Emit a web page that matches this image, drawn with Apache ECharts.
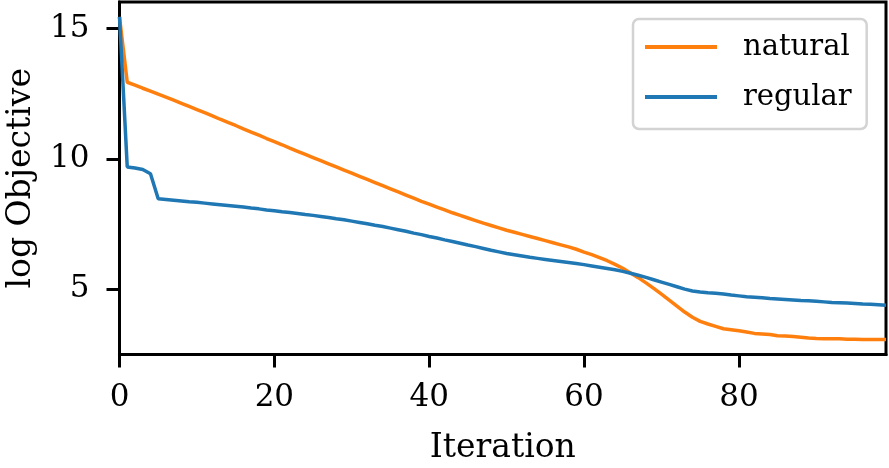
<!DOCTYPE html>
<html>
<head>
<meta charset="utf-8">
<script src="https://cdn.jsdelivr.net/npm/echarts@6/dist/echarts.min.js"></script>
<style>html,body{margin:0;padding:0;background:#fff}#c{width:889px;height:468px}</style>
</head>
<body>
<div id="c"></div>
<script>
var iterations = [];
for (var k = 0; k < 100; k++) iterations.push(k);

var natural = [15.45,12.94,12.83,12.71,12.60,12.48,12.37,12.25,12.13,12.01,
11.89,11.77,11.65,11.52,11.40,11.28,11.15,11.03,10.91,10.78,
10.66,10.54,10.41,10.29,10.17,10.05,9.93,9.81,9.69,9.57,
9.45,9.33,9.21,9.09,8.97,8.85,8.73,8.61,8.49,8.37,
8.26,8.15,8.04,7.93,7.83,7.73,7.63,7.53,7.44,7.35,
7.26,7.18,7.10,7.02,6.94,6.86,6.78,6.70,6.62,6.53,
6.42,6.32,6.21,6.09,5.95,5.80,5.62,5.44,5.24,5.03,
4.81,4.58,4.35,4.12,3.92,3.76,3.66,3.57,3.48,3.44,
3.40,3.35,3.30,3.28,3.26,3.21,3.20,3.18,3.15,3.12,
3.10,3.09,3.09,3.09,3.08,3.08,3.07,3.07,3.07,3.07];

var regular = [15.45,9.69,9.65,9.59,9.43,8.47,8.44,8.41,8.38,8.35,
8.33,8.30,8.27,8.24,8.21,8.18,8.15,8.11,8.08,8.04,
8.01,7.97,7.94,7.90,7.86,7.83,7.79,7.75,7.70,7.66,
7.61,7.56,7.51,7.45,7.40,7.34,7.28,7.22,7.15,7.09,
7.02,6.96,6.89,6.83,6.76,6.69,6.63,6.56,6.49,6.43,
6.37,6.32,6.27,6.22,6.18,6.14,6.10,6.06,6.02,5.98,
5.94,5.89,5.84,5.79,5.74,5.68,5.61,5.53,5.45,5.36,
5.27,5.18,5.09,5.00,4.93,4.89,4.86,4.84,4.81,4.77,
4.74,4.71,4.69,4.67,4.64,4.62,4.60,4.58,4.56,4.55,
4.53,4.51,4.49,4.48,4.47,4.45,4.43,4.42,4.40,4.38];

var xTicks = [0, 20, 40, 60, 80];
var yTicks = [5, 10, 15];

function pairs(ys) { return iterations.map(function (x, i) { return [x, ys[i]]; }); }

var FONT = 'DejaVu Serif';
var chart = echarts.init(document.getElementById('c'));
chart.setOption({
  animation: false,
  grid: {left: 119.5, right: 3, top: 2, bottom: 113.5, outerBoundsMode: 'none',
         show: true, borderColor: '#000', borderWidth: 3},
  legend: {
    left: 633, top: 19, orient: 'vertical',
    data: [{name: 'natural', icon: 'rect'}, {name: 'regular', icon: 'rect'}],
    itemWidth: 72, itemHeight: 4, itemGap: 20,
    padding: [13, 15, 17, 12],
    borderColor: '#d3d3d3', borderWidth: 2.5, borderRadius: 6,
    backgroundColor: 'rgba(255,255,255,0.8)',
    textStyle: {fontFamily: FONT, fontSize: 29, color: '#000', lineHeight: 30, padding: [0, 0, 0, 21]}
  },
  xAxis: [{
    type: 'value', min: 0, max: 99,
    name: 'Iteration', nameLocation: 'middle', nameGap: 77,
    nameTextStyle: {fontFamily: FONT, fontSize: 33, color: '#000'},
    axisLine: {show: true, lineStyle: {color: '#000', width: 3}},
    axisTick: {show: true, length: 13, lineStyle: {color: '#000', width: 3}, customValues: xTicks},
    axisLabel: {fontFamily: FONT, fontSize: 31, color: '#000', margin: 28, customValues: xTicks},
    splitLine: {show: false}
  }, {
    type: 'value', min: 0, max: 99, position: 'bottom',
    axisLine: {show: false},
    axisTick: {show: true, length: 13, lineStyle: {color: '#000', width: 3}, customValues: xTicks},
    axisLabel: {show: false, customValues: xTicks},
    splitLine: {show: false}
  }],
  yAxis: [{
    type: 'value', min: 2.49, max: 16.02,
    name: 'log Objective', nameLocation: 'middle', nameGap: 82, nameRotate: 90,
    nameTextStyle: {fontFamily: FONT, fontSize: 33, color: '#000'},
    axisLine: {show: true, lineStyle: {color: '#000', width: 3}},
    axisTick: {show: true, length: 13, lineStyle: {color: '#000', width: 3}, customValues: yTicks},
    axisLabel: {fontFamily: FONT, fontSize: 31, color: '#000', margin: 30, customValues: yTicks},
    splitLine: {show: false}
  }, {
    type: 'value', min: 2.49, max: 16.02, position: 'left',
    axisLine: {show: false},
    axisTick: {show: true, length: 13, lineStyle: {color: '#000', width: 3}, customValues: yTicks},
    axisLabel: {show: false, customValues: yTicks},
    splitLine: {show: false}
  }],
  series: [
    {name: 'natural', type: 'line', data: pairs(natural), showSymbol: false,
     lineStyle: {color: '#ff7f0e', width: 3.5}, itemStyle: {color: '#ff7f0e'}},
    {name: 'regular', type: 'line', data: pairs(regular), showSymbol: false,
     lineStyle: {color: '#1f77b4', width: 3.5}, itemStyle: {color: '#1f77b4'}}
  ]
});
</script>
</body>
</html>
